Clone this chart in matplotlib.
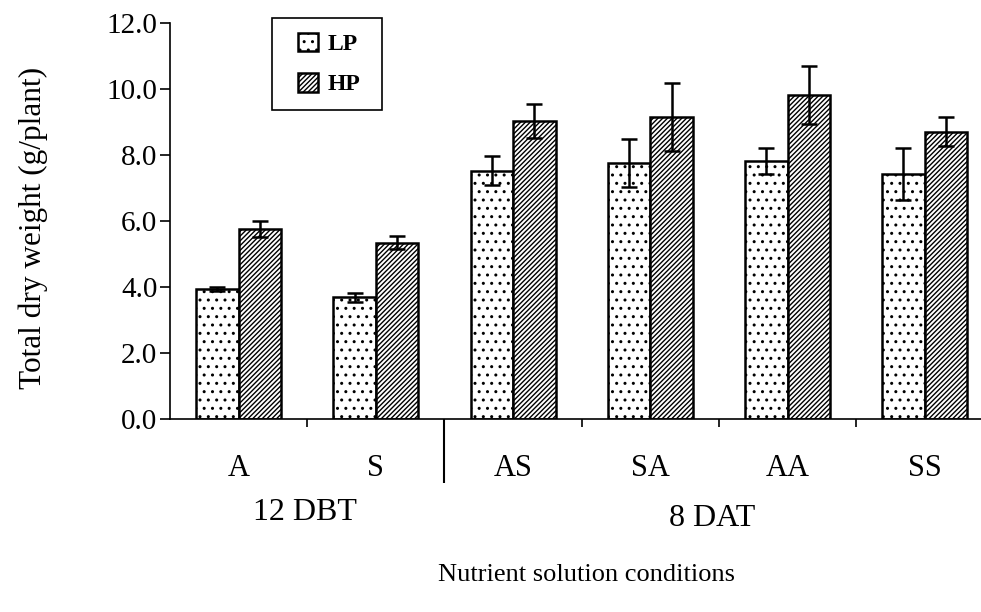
import matplotlib.pyplot as plt
import matplotlib.transforms as mtransforms
from matplotlib.patches import Rectangle
import numpy as np

conditions = ['A', 'S', 'AS', 'SA', 'AA', 'SS']
lp_weight = [3.93, 3.69, 7.53, 7.77, 7.82, 7.42]
hp_weight = [5.75, 5.34, 9.03, 9.15, 9.82, 8.71]
lp_err = [0.06, 0.13, 0.43, 0.73, 0.40, 0.79]
hp_err = [0.24, 0.20, 0.52, 1.03, 0.88, 0.45]
yticks = [0, 2, 4, 6, 8, 10, 12]

plt.rcParams['font.family'] = ['Liberation Serif', 'DejaVu Serif']
plt.rcParams['hatch.linewidth'] = 1.0

fig = plt.figure(figsize=(9.81, 6.12), dpi=100)
ax = fig.add_axes([170 / 981, 1 - 419 / 612, 811 / 981, 396 / 612])

x = np.arange(len(conditions))
w = 0.31
err_style = dict(ecolor='black', elinewidth=1.8, capsize=5.5, capthick=1.8)
ax.bar(x - w / 2, lp_weight, w, yerr=lp_err, color='white', edgecolor='black',
       linewidth=1.8, hatch='..', label='LP', error_kw=err_style)
ax.bar(x + w / 2, hp_weight, w, yerr=hp_err, color='white', edgecolor='black',
       linewidth=1.8, hatch='///////', label='HP', error_kw=err_style)

ax.set_xlim(-0.5, 5.41)
ax.set_ylim(0, 12)
for side in ['top', 'right']:
    ax.spines[side].set_visible(False)
for side in ['left', 'bottom']:
    ax.spines[side].set_linewidth(1.2)

ax.set_yticks(yticks)
ax.set_yticklabels([f'{v:.1f}' for v in yticks])
ax.tick_params(axis='y', length=7, width=1.2, pad=2, labelsize=21)

# short ticks between treatments, long one between the two sampling times
ax.set_xticks([0.5, 2.5, 3.5, 4.5])
ax.set_xticklabels([])
ax.set_xticks([1.5], minor=True)
ax.tick_params(axis='x', which='major', length=6, width=1.2)
ax.tick_params(axis='x', which='minor', length=46, width=1.5)

trans = mtransforms.blended_transform_factory(ax.transData, ax.transAxes)
for i, c in enumerate(conditions):
    ax.text(i, -0.125, c, transform=trans, ha='center', va='center', fontsize=22)
ax.text(0.48, -0.235, '12 DBT', transform=trans, ha='center', va='center', fontsize=23)
ax.text(3.45, -0.25, '8 DAT', transform=trans, ha='center', va='center', fontsize=23)

fig.text(586 / 981, 1 - 575 / 612, 'Nutrient solution conditions',
         ha='center', va='center', fontsize=19)
fig.text(33 / 981, 1 - 228 / 612, 'Total dry weight (g/plant)',
         rotation=90, ha='center', va='center', fontsize=22.5)

# legend box drawn separately so it can be wider than the entries need
box = Rectangle((272 / 981, 1 - 110 / 612), 110 / 981, 92 / 612,
                transform=fig.transFigure, facecolor='white',
                edgecolor='black', linewidth=1.2, zorder=5, clip_on=False)
ax.add_patch(box)
leg = ax.legend(loc='center', bbox_to_anchor=(329 / 981, 1 - 64 / 612),
                bbox_transform=fig.transFigure, frameon=False,
                prop={'weight': 'bold', 'size': 17},
                handlelength=0.85, handleheight=0.85, handletextpad=0.4,
                labelspacing=0.75, borderpad=0, borderaxespad=0)
leg.set_zorder(6)

fig.savefig('out.png', dpi=100)
